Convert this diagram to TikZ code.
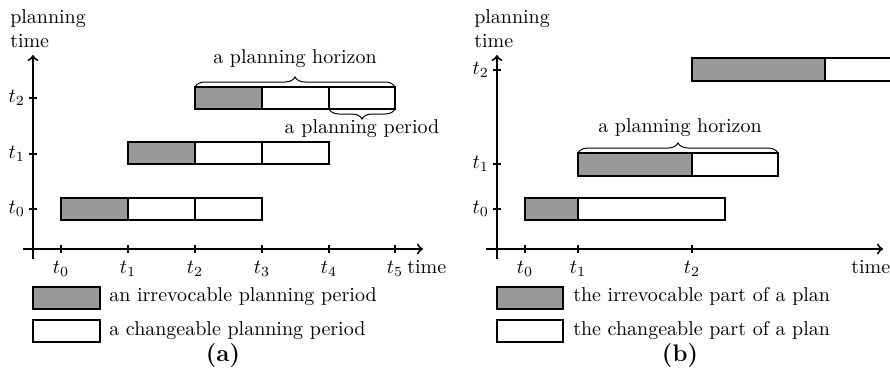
\documentclass[tikz,border=0pt]{standalone}
\usetikzlibrary{decorations.pathreplacing}
\definecolor{irrevgray}{RGB}{153,153,153}
\tikzset{every picture/.style={line width=0.75pt}}
\tikzset{
  irrev/.style={draw=black,fill=irrevgray,line width=0.8pt},
  chg/.style={draw=black,fill=white,line width=0.8pt},
  axis/.style={line width=1pt,->},
  tickmark/.style={line width=1pt},
  brc/.style={decorate,decoration={brace,amplitude=5pt},line width=0.5pt},
}

\begin{document}
\begin{tikzpicture}[x=0.5pt,y=0.5pt,yscale=-1,xscale=1]
\useasboundingbox (0,0) rectangle (890,381);

%%%%%%%%%% panel (a)
%Axes
\draw [axis]   (33,259) -- (33,55) ;
\draw [axis]   (23,249) -- (423,249) ;
%Ticks
\draw [tickmark]   (29,98) -- (37,98) ;
\draw [tickmark]   (29,154) -- (37,154) ;
\draw [tickmark]   (29,209) -- (37,209) ;
\draw [tickmark]   (61,245) -- (61,253) ;
\draw [tickmark]   (128,245) -- (128,253) ;
\draw [tickmark]   (195,245) -- (195,253) ;
\draw [tickmark]   (262,245) -- (262,253) ;
\draw [tickmark]   (329,245) -- (329,253) ;
\draw [tickmark]   (395,245) -- (395,253) ;
%Plan at t0
\draw [irrev] (61,198) rectangle (128,220) ;
\draw [chg] (128,198) rectangle (195,220) ;
\draw [chg] (195,198) rectangle (262,220) ;
%Plan at t1
\draw [irrev] (128,142) rectangle (195,164) ;
\draw [chg] (195,142) rectangle (262,164) ;
\draw [chg] (262,142) rectangle (329,164) ;
%Plan at t2
\draw [irrev] (195,87) rectangle (262,109) ;
\draw [chg] (262,87) rectangle (329,109) ;
\draw [chg] (329,87) rectangle (395,109) ;
%Braces
\draw [brc]   (195,87) -- (395,87) ;
\draw [brc]   (395,109) -- (329,109) ;
%Legend
\draw [irrev] (33,287) rectangle (100,309) ;
\draw [chg] (33,320) rectangle (100,342) ;

% Text Node
\draw (8,23) node [anchor=base west][inner sep=0.75pt] (ylabA1) {planning};
% Text Node
\draw (8,47) node [anchor=base west][inner sep=0.75pt] (ylabA2) {time};
% Text Node
\draw (27,98) node [anchor=east][inner sep=0.75pt] (ya2) {$t_2$};
% Text Node
\draw (27,154) node [anchor=east][inner sep=0.75pt] (ya1) {$t_1$};
% Text Node
\draw (27,209) node [anchor=east][inner sep=0.75pt] (ya0) {$t_0$};
% Text Node
\draw (61,273) node [anchor=base][inner sep=0.75pt] (xa0) {$t_0$};
% Text Node
\draw (128,273) node [anchor=base][inner sep=0.75pt] (xa1) {$t_1$};
% Text Node
\draw (195,273) node [anchor=base][inner sep=0.75pt] (xa2) {$t_2$};
% Text Node
\draw (262,273) node [anchor=base][inner sep=0.75pt] (xa3) {$t_3$};
% Text Node
\draw (329,273) node [anchor=base][inner sep=0.75pt] (xa4) {$t_4$};
% Text Node
\draw (395,273) node [anchor=base][inner sep=0.75pt] (xa5) {$t_5$};
% Text Node
\draw (405,273) node [anchor=base west][inner sep=0.75pt] (xlabA) {time};
% Text Node
\draw (295,63) node [anchor=base][inner sep=0.75pt] (horA) {a planning horizon};
% Text Node
\draw (362,133) node [anchor=base][inner sep=0.75pt] (perA) {a planning period};
% Text Node
\draw (107,301) node [anchor=base west][inner sep=0.75pt] (legA1) {an irrevocable planning period};
% Text Node
\draw (107,335) node [anchor=base west][inner sep=0.75pt] (legA2) {a changeable planning period};
% Text Node
\draw (223,361) node [anchor=base][inner sep=0.75pt] (capA) {\large\bfseries (a)};

%%%%%%%%%% panel (b)
%Axes
\draw [axis]   (497,259) -- (497,55) ;
\draw [axis]   (486,249) -- (883,249) ;
%Ticks
\draw [tickmark]   (493,70) -- (501,70) ;
\draw [tickmark]   (493,164) -- (501,164) ;
\draw [tickmark]   (493,209) -- (501,209) ;
\draw [tickmark]   (525,245) -- (525,253) ;
\draw [tickmark]   (578,245) -- (578,253) ;
\draw [tickmark]   (692,245) -- (692,253) ;
%Plan at t0
\draw [irrev] (525,198) rectangle (578,220) ;
\draw [chg] (578,198) rectangle (725,220) ;
%Plan at t1
\draw [irrev] (578,153) rectangle (692,176) ;
\draw [chg] (692,153) rectangle (778,176) ;
%Plan at t2
\draw [irrev] (692,58) rectangle (825,81) ;
\draw [chg] (890,58) -- (825,58) -- (825,81) -- (890,81) ;
%Brace
\draw [brc]   (578,153) -- (778,153) ;
%Legend
\draw [irrev] (497,287) rectangle (563,309) ;
\draw [chg] (497,320) rectangle (563,342) ;

% Text Node
\draw (472,23) node [anchor=base west][inner sep=0.75pt] (ylabB1) {planning};
% Text Node
\draw (472,47) node [anchor=base west][inner sep=0.75pt] (ylabB2) {time};
% Text Node
\draw (491,70) node [anchor=east][inner sep=0.75pt] (yb2) {$t_2$};
% Text Node
\draw (491,164) node [anchor=east][inner sep=0.75pt] (yb1) {$t_1$};
% Text Node
\draw (491,209) node [anchor=east][inner sep=0.75pt] (yb0) {$t_0$};
% Text Node
\draw (525,273) node [anchor=base][inner sep=0.75pt] (xb0) {$t_0$};
% Text Node
\draw (578,273) node [anchor=base][inner sep=0.75pt] (xb1) {$t_1$};
% Text Node
\draw (692,273) node [anchor=base][inner sep=0.75pt] (xb2) {$t_2$};
% Text Node
\draw (849,273) node [anchor=base west][inner sep=0.75pt] (xlabB) {time};
% Text Node
\draw (680,132) node [anchor=base][inner sep=0.75pt] (horB) {a planning horizon};
% Text Node
\draw (571,301) node [anchor=base west][inner sep=0.75pt] (legB1) {the irrevocable part of a plan};
% Text Node
\draw (571,335) node [anchor=base west][inner sep=0.75pt] (legB2) {the changeable part of a plan};
% Text Node
\draw (680,361) node [anchor=base][inner sep=0.75pt] (capB) {\large\bfseries (b)};

\end{tikzpicture}
\end{document}
